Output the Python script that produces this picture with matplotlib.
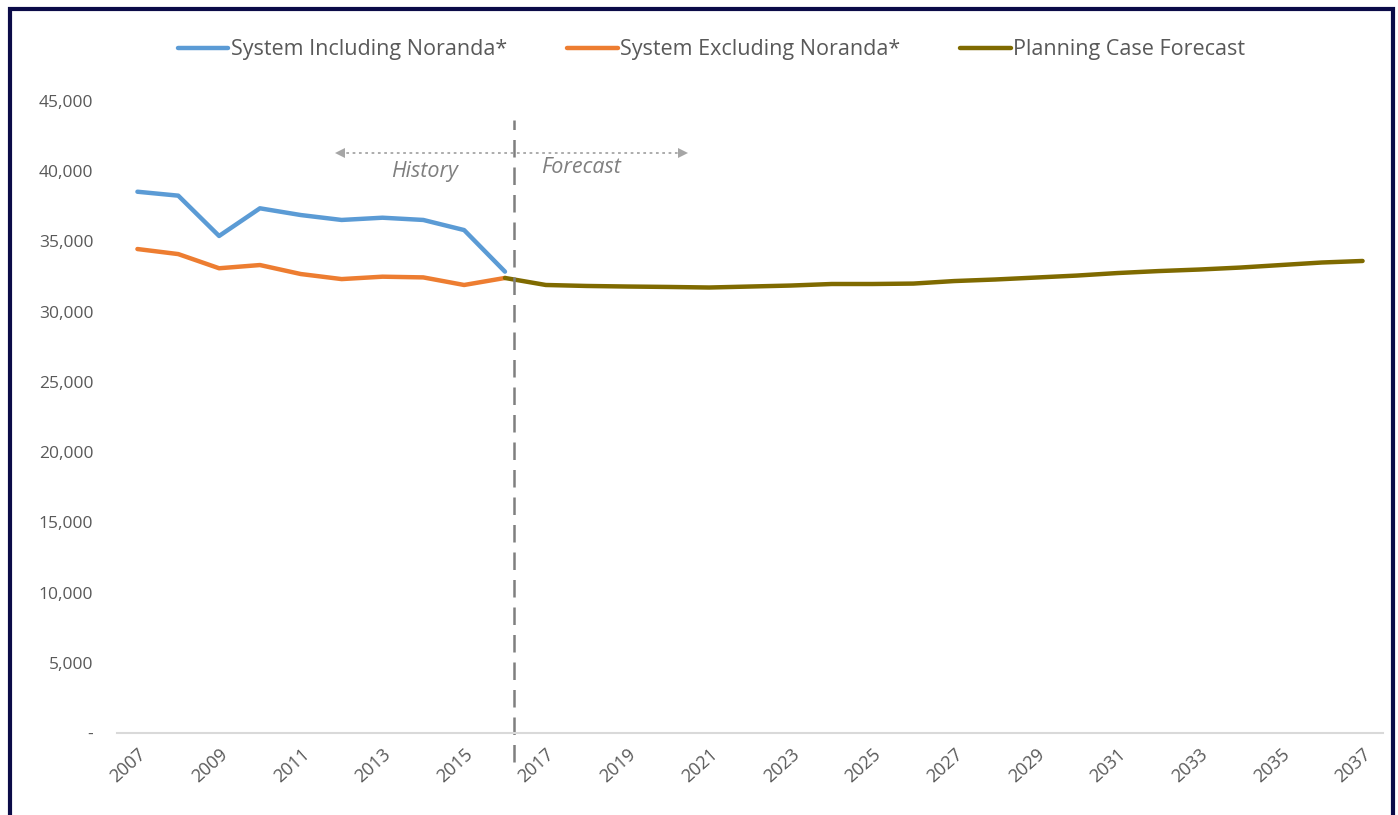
import matplotlib
matplotlib.use("Agg")
import matplotlib.pyplot as plt
from matplotlib.patches import Rectangle
from matplotlib.ticker import FuncFormatter

plt.rcParams["font.family"] = ["Open Sans", "DejaVu Sans"]

# Annual peak demand (MW)
hist_years = list(range(2007, 2017))
incl_noranda = [38540, 38260, 35390, 37360, 36880, 36530, 36690, 36530, 35810, 32850]
excl_noranda = [34460, 34100, 33090, 33320, 32680, 32320, 32490, 32440, 31900, 32400]

fcst_years = list(range(2016, 2038))
planning_case = [32400, 31900, 31830, 31790, 31760, 31720, 31790, 31860, 31970, 31970,
                 32000, 32180, 32290, 32430, 32570, 32750, 32890, 33000, 33140, 33320,
                 33500, 33610]

tick_years = list(range(2007, 2038, 2))
y_ticks = list(range(0, 45001, 5000))

labels = ["System Including Noranda*", "System Excluding Noranda*", "Planning Case Forecast"]
colors = ["#5b9bd5", "#ed7d31", "#7f6a00"]

W, H = 1398, 815
fig = plt.figure(figsize=(W / 100, H / 100), dpi=100)
ax = fig.add_axes([117 / W, 1 - 733 / H, (1383 - 117) / W, (733 - 101) / H])

lw = 3.2
ax.plot(hist_years, incl_noranda, color=colors[0], lw=lw, label=labels[0], solid_capstyle="round")
ax.plot(hist_years, excl_noranda, color=colors[1], lw=lw, label=labels[1], solid_capstyle="round")
ax.plot(fcst_years, planning_case, color=colors[2], lw=lw, label=labels[2], solid_capstyle="round")

ax.set_xlim(2006.5, 2037.5)
ax.set_ylim(0, 45000)
ax.set_yticks(y_ticks)
ax.yaxis.set_major_formatter(FuncFormatter(lambda v, p: "-" if v == 0 else f"{int(v):,}"))
ax.set_xticks(tick_years)
ax.set_xticklabels([str(y) for y in tick_years], rotation=42, ha="right", va="top",
                   rotation_mode="anchor", fontsize=13)

for s in ["top", "right", "left"]:
    ax.spines[s].set_visible(False)
ax.spines["bottom"].set_color("#d9d9d9")
ax.spines["bottom"].set_linewidth(1.5)
ax.tick_params(axis="both", length=0, colors="#595959")
ax.tick_params(axis="y", pad=17, labelsize=12.5)
ax.tick_params(axis="x", pad=9)

# History / Forecast divider
ax.axvline(2016.22, ymin=-0.046, ymax=0.97, color="#7f7f7f", lw=1.8,
           dashes=(7, 4), clip_on=False)
ax.plot([2011.95, 2020.37], [41300, 41300], color="#a6a6a6", lw=1.3, ls=(0, (1.5, 2)))
ax.plot([2011.95], [41300], marker="<", color="#a6a6a6", ms=7, mew=0)
ax.plot([2020.37], [41300], marker=">", color="#a6a6a6", ms=7, mew=0)
ax.text(2014.04, 40000, "History", style="italic", color="#7f7f7f", fontsize=15.5,
        ha="center", va="center")
ax.text(2017.86, 40230, "Forecast", style="italic", color="#7f7f7f", fontsize=15.5,
        ha="center", va="center")

leg = fig.legend(loc="center", bbox_to_anchor=(711.5 / W, 1 - 50 / H), ncol=3, frameon=False,
                 fontsize=15.5, handlelength=2.35, handletextpad=0.1, columnspacing=2.8)
for t in leg.get_texts():
    t.set_color("#595959")

# Outer frame
fig.add_artist(Rectangle((10 / W, -0.05), (1393 - 10) / W, 1.05 - 9 / H,
                         transform=fig.transFigure, fill=False, edgecolor="#0b0b48",
                         lw=3, clip_on=False))

fig.savefig("out.png", dpi=100)
